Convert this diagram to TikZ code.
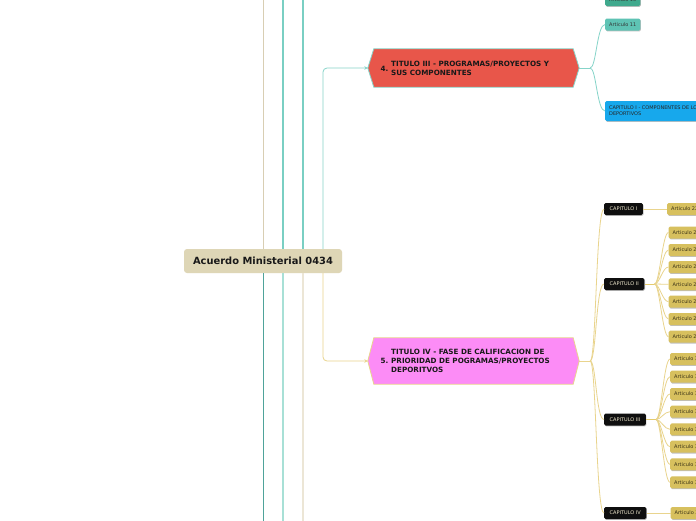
\documentclass[tikz,border=0pt]{standalone}
\usepackage{fontspec}
\setmainfont{DejaVu Sans}
\usetikzlibrary{arrows.meta,shadows}
\definecolor{rootfill}{HTML}{DED6B6}
\definecolor{tealln}{HTML}{86D4C9}
\definecolor{tealdk}{HTML}{4FA39A}
\definecolor{tealmid}{HTML}{7ACFC3}
\definecolor{beigeln}{HTML}{D8CEB3}
\definecolor{beigelt}{HTML}{ECE6D6}
\definecolor{teallt}{HTML}{A8E0D6}
\definecolor{yelln}{HTML}{E9D48D}
\definecolor{yelldk}{HTML}{E4CB6E}
\definecolor{redfill}{HTML}{E8564A}
\definecolor{pinkfill}{HTML}{FC8CF6}
\definecolor{goldfill}{HTML}{D7C05E}
\definecolor{goldtext}{HTML}{3A3217}
\definecolor{capfill}{HTML}{0F0F0F}
\definecolor{captext}{HTML}{F2EBCF}
\definecolor{bluefill}{HTML}{17A8EC}
\definecolor{tealbox}{HTML}{5EC3B4}
\definecolor{tealboxdk}{HTML}{40A98D}
\tikzset{
  rootbox/.style={fill=rootfill, rounded corners=3pt, minimum width=158pt, minimum height=24pt, inner sep=0pt, font=\fontsize{9.9}{11}\selectfont\bfseries, text=black!90},
  hexbody/.style={minimum width=199pt, inner sep=0pt},
  titletext/.style={font=\fontsize{7.2}{9}\selectfont\bfseries, align=left, inner sep=0pt, anchor=west, text=black!90},
  smallbox/.style={rounded corners=1.5pt, inner sep=0pt, inner xsep=4pt, minimum height=12pt, font=\fontsize{5}{6}\selectfont, anchor=west, drop shadow={shadow xshift=0.6pt, shadow yshift=-0.9pt, opacity=0.25, fill=black}},
  artbox/.style={smallbox, fill=goldfill, text=goldtext},
  capbox/.style={smallbox, fill=capfill, text=captext, inner xsep=5.5pt},
  tealart/.style={smallbox, text=black!80},
  conn/.style={line width=0.8pt},
  tip/.style={-{Stealth[length=3.5pt,width=3.5pt]}}
}
\begin{document}
\begin{tikzpicture}[x=1pt,y=-1pt]
\useasboundingbox (0,0) rectangle (696,520);
\fill[white] (0,0) rectangle (696,520);
\clip (0,0) rectangle (696,520);

% root
\node[rootbox] (root) at (263,261) {Acuerdo Ministerial 0434};

% free ends of off-picture branches
\coordinate (u1) at (263,-3);
\coordinate (u2) at (283,-3);
\coordinate (u3) at (303,-3);
\coordinate (d1) at (263,523);
\coordinate (d2) at (283,523);
\coordinate (d3) at (303,523);
\coordinate (trunk) at (323,261);

\draw[line width=1pt, beigeln] (u1 |- root.north) -- (u1);
\draw[line width=1.4pt, tealmid] (u2 |- root.north) -- (u2);
\draw[line width=1.4pt, tealmid] (u3 |- root.north) -- (u3);
\draw[line width=1pt, tealdk] (d1 |- root.south) -- (d1);
\draw[line width=1.5pt, teallt] (d2 |- root.south) -- (d2);
\draw[line width=1.5pt, beigelt] (d3 |- root.south) -- (d3);

% TITULO III
\node[hexbody, minimum height=38pt] (t3) at (473.5,68) {};
\coordinate (t3L) at ([xshift=-6pt]t3.west);
\coordinate (t3R) at ([xshift=6pt]t3.east);
\filldraw[fill=redfill, draw=tealln, line width=0.8pt] (t3.north west) -- (t3.north east) -- (t3R) -- (t3.south east) -- (t3.south west) -- (t3L) -- cycle;
\node[titletext] (t3n) at (380.5,69) {4.};
\node[titletext] (t3t) at (391,68) {TITULO III - PROGRAMAS/PROYECTOS Y\\SUS COMPONENTES};

% TITULO IV
\node[hexbody, minimum height=46pt] (t4) at (473.5,361) {};
\coordinate (t4L) at ([xshift=-6pt]t4.west);
\coordinate (t4R) at ([xshift=6pt]t4.east);
\filldraw[fill=pinkfill, draw=yelln, line width=0.8pt] (t4.north west) -- (t4.north east) -- (t4R) -- (t4.south east) -- (t4.south west) -- (t4L) -- cycle;
\node[titletext] (t4n) at (380.5,361) {5.};
\node[titletext] (t4t) at (391,361) {TITULO IV - FASE DE CALIFICACION DE\\PRIORIDAD DE POGRAMAS/PROYECTOS\\DEPORITVOS};

% trunk connectors
\draw[conn, tealln, rounded corners=4pt, tip] (trunk |- root.north) |- (t3L);
\draw[conn, yelln, rounded corners=4pt, tip] (trunk |- root.south) |- (t4L);

% children of TITULO III
\node[tealart, fill=tealboxdk] (a10) at (605,0) {Articulo 10};
\node[tealart, fill=tealbox] (a11) at (605,24.5) {Articulo 11};
\node[smallbox, fill=bluefill, text=black!85, align=left, minimum height=20pt] (c1b) at (605,111) {CAPITULO I - COMPONENTES DE LOS PROGRAMAS/PROYECTOS\\DEPORTIVOS};

\draw[conn, tealln] (t3R) -- ++(11,0) coordinate (t3j);
\draw[conn, tealln] (t3j) .. controls +(6,0) and +(-8,0) .. (a11.west);
\draw[conn, tealln] (t3j) .. controls +(6,0) and +(-8,0) .. (c1b.west);

% children of TITULO IV
\node[capbox] (cap1) at (604,209) {CAPITULO I};
\node[capbox] (cap2) at (604,284) {CAPITULO II};
\node[capbox] (cap3) at (604,419.5) {CAPITULO III};
\node[capbox] (cap4) at (604,513) {CAPITULO IV};

\draw[conn, yelln] (t4R) -- ++(11,0) coordinate (t4j);
\foreach \c in {cap1,cap2,cap3,cap4}
  \draw[conn, yelln] (t4j) .. controls +(6,0) and +(-8,0) .. (\c.west);

% articles
\node[artbox] (a22) at (667,209) {Articulo 22};
\draw[conn, yelln] (cap1.east) -- (a22.west);

\foreach \n/\y in {23/232.5,24/250,25/267,26/284.3,27/301.7,28/319,29/336.7}
  \node[artbox] (a\n) at (668.5,\y) {Articulo \n};
\draw[conn, yelldk] (cap2.east) -- ++(10,0) coordinate (c2j);
\foreach \n in {23,...,29}
  \draw[conn, yelln] (c2j) .. controls +(5,0) and +(-6,0) .. (a\n.west);

\foreach \n/\y in {30/359,31/376.7,32/394,33/411.7,34/429.3,35/446.7,36/464.3,37/482.3}
  \node[artbox] (a\n) at (670,\y) {Articulo \n};
\draw[conn, yelldk] (cap3.east) -- ++(10,0) coordinate (c3j);
\foreach \n in {30,...,37}
  \draw[conn, yelln] (c3j) .. controls +(5,0) and +(-6,0) .. (a\n.west);

\node[artbox] (a38) at (670.5,513) {Articulo 38};
\draw[conn, yelln] (cap4.east) -- (a38.west);
\end{tikzpicture}
\end{document}
